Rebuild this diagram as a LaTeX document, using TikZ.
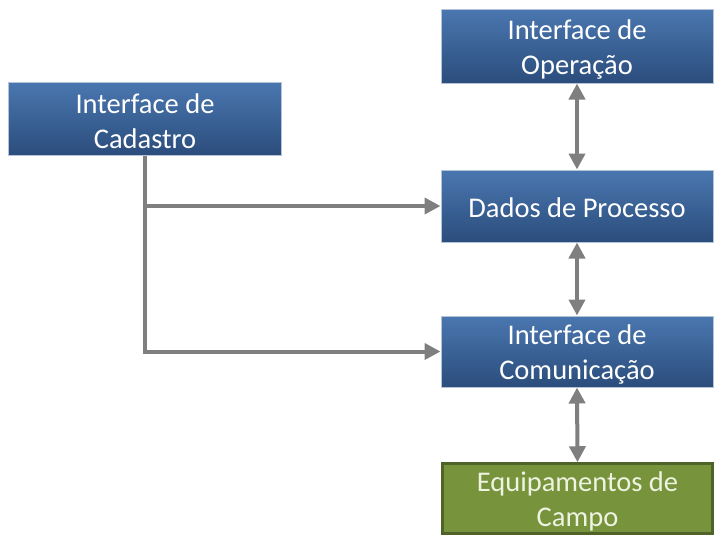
\documentclass[tikz,border=0pt]{standalone}
\usepackage{fontspec}
\setmainfont{Carlito}
\usetikzlibrary{arrows.meta}
\definecolor{btop}{HTML}{4A77B0}
\definecolor{bbot}{HTML}{2B4D7C}
\definecolor{bedge}{HTML}{B4C3D8}
\definecolor{gfill}{HTML}{77933C}
\definecolor{gedge}{HTML}{4F6228}
\definecolor{conncol}{HTML}{7F7F7F}
\definecolor{gtext}{HTML}{EEF3E2}
\tikzset{
  bluebox/.style={rectangle, top color=btop, bottom color=bbot, draw=bedge, line width=1pt, inner sep=0pt},
  greenbox/.style={rectangle, fill=gfill, draw=gedge, line width=2.5pt, inner sep=0pt},
  txt/.style={align=center, inner sep=0pt, text=white, font=\fontsize{28.5}{35}\selectfont},
  gtxt/.style={txt, text=gtext},
  conn/.style={draw=conncol, line width=4pt, line join=miter, -{Triangle[length=16pt,width=16pt]}},
  dconn/.style={draw=conncol, line width=4pt, {Triangle[length=16pt,width=16pt]}-{Triangle[length=16pt,width=16pt]}},
}
\begin{document}
\begin{tikzpicture}[x=1pt,y=-1pt]
\useasboundingbox (0,0) rectangle (721,552);
\node[bluebox, minimum width=272pt, minimum height=74pt] (op) at (577,46) {};
\node[bluebox, minimum width=273pt, minimum height=73pt] (cad) at (145,118.5) {};
\node[bluebox, minimum width=272pt, minimum height=72pt] (dad) at (577,206) {};
\node[bluebox, minimum width=272pt, minimum height=71pt] (com) at (577,351.5) {};
\node[greenbox, minimum width=270pt, minimum height=70pt] (eq) at (577.5,498.5) {};
\node[txt, yshift=-3pt] (opt) at (op.center) {Interface de\\Operação};
\node[txt, yshift=-3pt] (cadt) at (cad.center) {Interface de\\Cadastro};
\node[txt, yshift=-1.5pt] (dadt) at (dad.center) {Dados de Processo};
\node[txt, yshift=-3pt] (comt) at (com.center) {Interface de\\Comunicação};
\node[gtxt, yshift=-3pt] (eqt) at (eq.center) {Equipamentos de\\Campo};
\draw[conn] (cad.south) |- (com.west);
\draw[conn] (cad.south |- dad.west) -- (dad.west);
\draw[dconn] (op.south) -- (dad.north);
\draw[dconn] (dad.south) -- (com.north);
\draw[dconn] (com.south) -- (eq.north);
\end{tikzpicture}
\end{document}
